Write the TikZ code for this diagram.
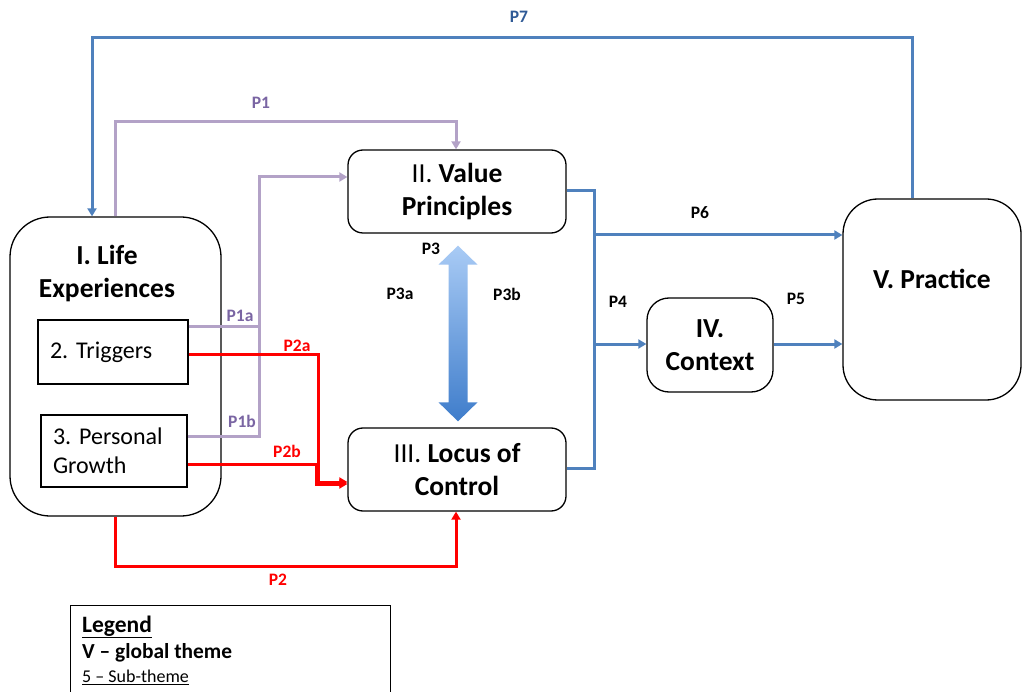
\documentclass[tikz,border=0pt]{standalone}
\usepackage{fontspec}
\setmainfont{Carlito}
\usetikzlibrary{arrows.meta,calc}
\definecolor{lineblue}{HTML}{4F81BD}
\definecolor{lav}{HTML}{B3A2C7}
\definecolor{purplelbl}{HTML}{7A65A3}
\definecolor{darkbluelbl}{HTML}{2F5A96}
\definecolor{redline}{HTML}{FF0000}
\definecolor{arrtop}{HTML}{A9CBF5}
\definecolor{arrbot}{HTML}{3F7DCB}
\tikzset{
  conn/.style={line width=3pt},
  bl/.style={conn, draw=lineblue},
  lv/.style={conn, draw=lav},
  rd/.style={conn, draw=redline},
  ar/.style={-{Triangle[width=9pt,length=8pt]}},
  box/.style={draw=black, line width=1.3pt, fill=white, inner sep=0pt},
  rbox/.style={box, rounded corners=15pt, align=center, font=\fontsize{27.5}{33}\selectfont},
  sbox/.style={box, align=left, font=\fontsize{24}{29}\selectfont, inner xsep=12pt},
  plbl/.style={font=\bfseries\fontsize{17.5}{20}\selectfont, inner sep=0pt},
}
\frenchspacing
\begin{document}
\begin{tikzpicture}[x=1pt,y=-1pt]
\useasboundingbox (0,0) rectangle (1022,692);
\fill[white] (0,0) rectangle (1022,692);

% nodes
\node[box, rounded corners=40pt, minimum width=211pt, minimum height=299pt] (life) at (115.5,366.5) {};
\node[align=center, font=\bfseries\fontsize{27.5}{33}\selectfont, inner sep=0pt] (lifet) at (107,273.5) {I. Life\\Experiences};
\node[sbox, minimum height=64pt, text width=126pt] (trig) at (113,352) {2. Triggers};
\node[sbox, minimum height=72pt, text width=122pt] (pg) at (114,451) {3. Personal\\Growth};
\node[rbox, minimum width=218pt, minimum height=83pt] (vp) at (457,191.5) {II. \textbf{Value}\\\textbf{Principles}};
\node[rbox, minimum width=218pt, minimum height=83pt] (lc) at (457,469.5) {III. \textbf{Locus of}\\\textbf{Control}};
\node[rbox, rounded corners=22pt, minimum width=126pt, minimum height=94pt] (ctx) at (710,345) {\textbf{IV.}\\\textbf{Context}};
\node[box, rounded corners=35pt, minimum width=178pt, minimum height=201pt,
      label={[font=\bfseries\fontsize{27.5}{33}\selectfont, yshift=21pt]center:V. Practice}] (prac) at (932,299.5) {};

% P3 double arrow between vp and lc
\coordinate (p3t) at ($(vp.south)+(1,12)$);
\coordinate (p3b) at ($(lc.north)+(1,-6)$);
\shade[top color=arrtop, bottom color=arrbot]
  (p3t) -- ++(19.5,19) -- ++(-10,0) -- ($(p3b)+(9.5,-19)$) -- ++(10,0) -- (p3b)
  -- ++(-19.5,-19) -- ++(10,0) -- ($(p3t)+(-9.5,19)$) -- ++(-10,0) -- cycle;

% P7
\draw[bl,ar] (prac.north -| 912,0) |- (92,38) -- (life.north -| 92,0);
% P1
\draw[lv,ar] (life.north -| 115,0) |- (456,122) -- (vp.north -| 456,0);
% P1a / P1b
\draw[lv,ar] (trig.east |- 0,327) -| (259,177) -- (vp.west |- 0,177);
\draw[lv] (pg.east |- 0,436) -| (259,327);
% P2a / P2b
\draw[rd,ar] (trig.east |- 0,354) -| (318,482) -- (lc.west |- 0,482);
\draw[rd,ar] (pg.east |- 0,464) -| (316,484) -- (lc.west |- 0,484);
% P2
\draw[rd,ar] (life.south -| 115,0) |- (456,566) -- (lc.south -| 456,0);
% blue bus
\draw[bl] (vp.east |- 0,191) -| (594,468) -- (lc.east |- 0,468);
\coordinate (j6) at (594,235);
\coordinate (j4) at (594,344);
\draw[bl,ar] (j6) -- (prac.west |- j6);
\draw[bl,ar] (j4) -- (ctx.west |- j4);
\draw[bl,ar] (ctx.east |- j4) -- (prac.west |- j4);

% labels
\node[plbl, text=darkbluelbl] (l7) at (519,17) {P7};
\node[plbl, text=purplelbl] (l1) at (261,103) {P1};
\node[plbl, text=purplelbl] (l1a) at (240,316) {P1a};
\node[plbl, text=purplelbl] (l1b) at (242,421) {P1b};
\node[plbl, text=redline] (l2a) at (297,346) {P2a};
\node[plbl, text=redline] (l2b) at (287,451) {P2b};
\node[plbl, text=redline] (l2) at (278,580) {P2};
\node[plbl] (l3) at (431,249) {P3};
\node[plbl] (l3a) at (400,294) {P3a};
\node[plbl] (l3b) at (507,294) {P3b};
\node[plbl] (l4) at (618,302) {P4};
\node[plbl] (l5) at (796,299) {P5};
\node[plbl] (l6) at (700,213) {P6};

% legend
\node[draw=black, line width=1.2pt, anchor=north west, minimum width=320pt, minimum height=110pt,
      inner sep=0pt] (leg) at (70,605) {};
\node[anchor=west, font=\bfseries\fontsize{23.5}{27}\selectfont, inner sep=0pt] (legt) at (82,627) {\underline{Legend}};
\node[anchor=west, font=\bfseries\fontsize{21.4}{25}\selectfont, inner sep=0pt] (legv) at (82,653) {V -- global theme};
\node[anchor=west, font=\fontsize{18}{21}\selectfont, inner sep=0pt] (legs) at (82,677) {\underline{5 -- Sub-theme}};
\end{tikzpicture}
\end{document}
